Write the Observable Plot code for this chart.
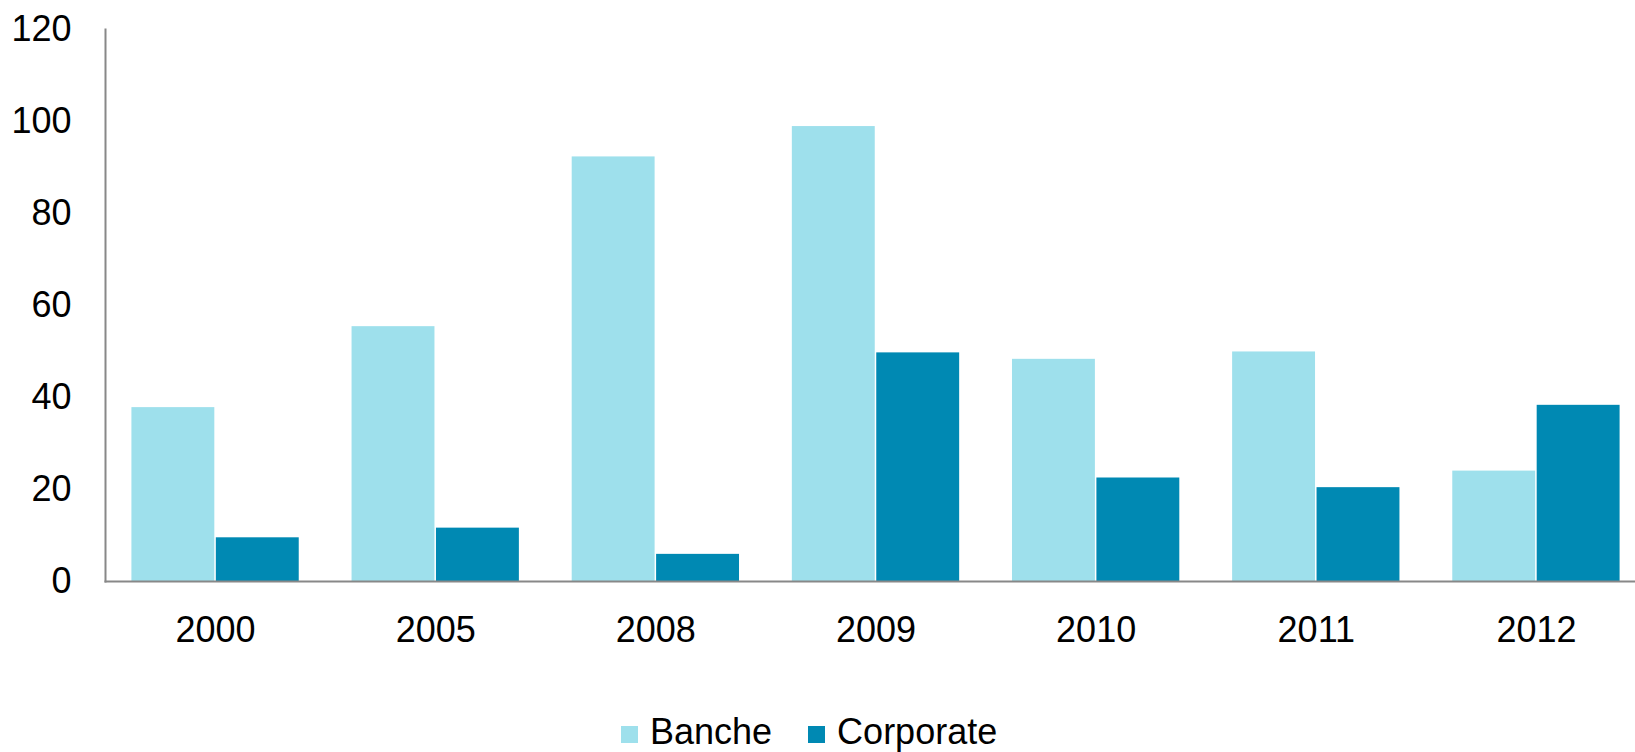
<!DOCTYPE html>
<html>
<head>
<meta charset="utf-8">
<script src="https://cdn.jsdelivr.net/npm/d3@7"></script>
<script src="https://cdn.jsdelivr.net/npm/@observablehq/plot@0.6"></script>
<style>
  html, body { margin: 0; padding: 0; background: #fff; }
  body { width: 1635px; height: 752px; overflow: hidden; font-family: "Liberation Sans", Arial, sans-serif; }
  #chart svg { display: block; overflow: hidden; }
  #legend { display: flex; align-items: center; height: 40px; line-height: 40px; padding-top: 32px; padding-left: 621px; font-size: 36px; color: #000; }
  .item { display: flex; align-items: center; margin-right: 36px; }
  .sw { width: 17px; height: 17px; margin-right: 12px; display: inline-block; position: relative; top: 2px; }
</style>
</head>
<body>
<div id="chart"></div>
<div id="legend"></div>
<script>
const years = ["2000", "2005", "2008", "2009", "2010", "2011", "2012"];
const series = ["Banche", "Corporate"];
const banche = [37.8, 55.4, 92.3, 98.9, 48.3, 49.9, 24.0];
const corporate = [9.5, 11.6, 5.9, 49.7, 22.5, 20.4, 38.3];
const colors = ["#9EE0EC", "#0089B3"];
const yTicks = [0, 20, 40, 60, 80, 100, 120];

const data = [];
years.forEach((y, i) => {
  data.push({year: y, series: "Banche", value: banche[i]});
  data.push({year: y, series: "Corporate", value: corporate[i]});
});

const chart = Plot.plot({
  width: 1635,
  height: 680,
  marginLeft: 105,
  marginRight: -11,
  marginTop: 29,
  marginBottom: 99,
  style: {fontFamily: "'Liberation Sans', Arial, sans-serif", fontSize: "36px", color: "#000", background: "#fff", overflow: "hidden"},
  fx: {domain: years, paddingInner: 0, paddingOuter: 0, round: false, label: null, tickSize: 0, tickPadding: 35},
  x: {domain: series, axis: null, paddingInner: 0, paddingOuter: 0.304, align: 0.5, round: false},
  y: {domain: [0, 120], ticks: yTicks, tickSize: 0, tickPadding: 34, label: null},
  color: {domain: series, range: colors},
  marks: [
    Plot.barY(data, {fx: "year", x: "series", y: "value", fill: "series", insetLeft: 0.75, insetRight: 0.75}),
    Plot.frame({anchor: "bottom", facet: "super", stroke: "#888", strokeWidth: 2}),
    Plot.frame({anchor: "left", facet: "super", stroke: "#888", strokeWidth: 2})
  ]
});
document.getElementById("chart").appendChild(chart);

const legend = document.getElementById("legend");
series.forEach((s, i) => {
  const item = document.createElement("div");
  item.className = "item";
  item.innerHTML = `<span class="sw" style="background:${colors[i]}"></span><span>${s}</span>`;
  legend.appendChild(item);
});
</script>
</body>
</html>
